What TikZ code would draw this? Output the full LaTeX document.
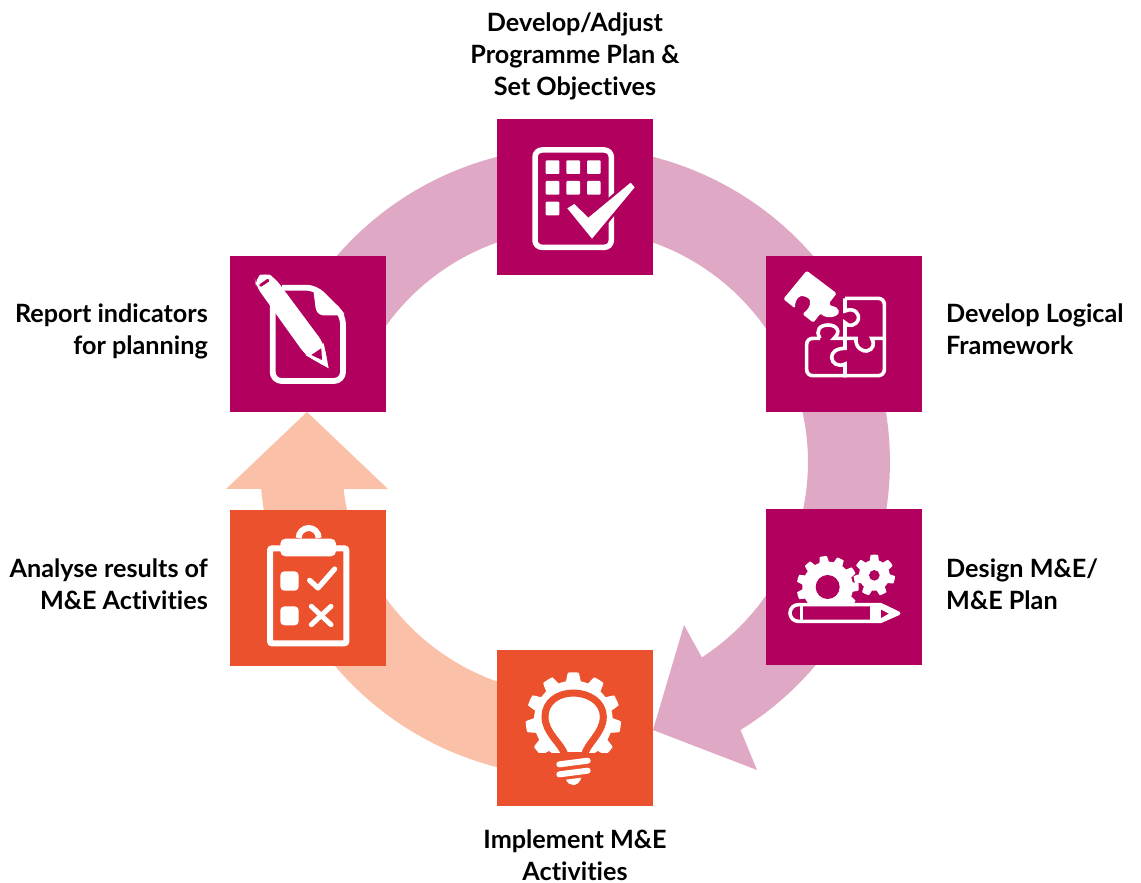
\documentclass[tikz,border=0pt]{standalone}
\usepackage{fontspec}
\setmainfont{Lato}[Ligatures=NoCommon]
\usetikzlibrary{positioning}
\definecolor{plum}{HTML}{B1005D}
\definecolor{rust}{HTML}{EC512D}
\definecolor{plumring}{HTML}{DFA8C4}
\definecolor{rustring}{HTML}{FBC0A8}
\newcommand{\gearplot}[6]{plot[domain=#6-180:#6+180,samples=361] ({#1+(#3+(#4-#3)*max(0,min(1,0.6+1.3*cos(#5*(\x-(#6))))))*cos(\x)},{#2+(#3+(#4-#3)*max(0,min(1,0.6+1.3*cos(#5*(\x-(#6))))))*sin(\x)})}
\tikzset{
	stepbox/.style={minimum size=156pt,inner sep=0pt,outer sep=0pt},
	steplabel/.style={font=\fontsize{25.2}{32}\selectfont\bfseries,inner sep=0pt},
	zoomed/.style={x=0.33333pt,y=-0.33333pt}
}
\begin{document}
\begin{tikzpicture}[x=1pt,y=-1pt]
	\useasboundingbox (0,0) rectangle (1141,883);
	\fill[plumring] plot[domain=206:418.3,samples=90] ({575+315*cos(\x)},{462+315*sin(\x)})
		-- (757,770) -- (653,730) -- (684,625)
		-- plot[domain=417:206,samples=90] ({575+233*cos(\x)},{462+233*sin(\x)}) -- cycle;
	\fill[rustring] plot[domain=80:175.1,samples=50] ({575+315*cos(\x)},{462+315*sin(\x)})
		-- (226,489) -- (307,412) -- (388,489)
		-- plot[domain=173.3:80,samples=50] ({575+233*cos(\x)},{462+233*sin(\x)}) -- cycle;

	\node[stepbox,fill=plum](plan) at (575,197){};
	\node[stepbox,fill=plum](logframe) at (844,334){};
	\node[stepbox,fill=plum](design) at (844,587){};
	\node[stepbox,fill=rust](implement) at (575,728){};
	\node[stepbox,fill=rust](analyse) at (308,588){};
	\node[stepbox,fill=plum](report) at (308,334){};

	\node[steplabel,align=center,above=19pt of plan](plantext){Develop/Adjust\\Programme Plan \&\\Set Objectives};
	\node[steplabel,align=left,right=24pt of logframe,yshift=5pt](logframetext){Develop Logical\\Framework};
	\node[steplabel,align=left,right=24pt of design,yshift=3pt](designtext){Design M\&E/\\M\&E Plan};
	\node[steplabel,align=center,below=24pt of implement](implementtext){Implement M\&E\\Activities};
	\node[steplabel,align=right,left=22pt of analyse,yshift=4pt](analysetext){Analyse results of\\M\&E Activities};
	\node[steplabel,align=right,left=22pt of report,yshift=3pt](reporttext){Report indicators\\for planning};

	\begin{scope}[shift={(490,110)},zoomed]
		\draw[white,line width=5.5pt,rounded corners=7pt] (135,120) rectangle (364,412);
		\foreach \col in {167,229,291}{
			\foreach \row in {151,213}{
				\fill[white,rounded corners=1pt] (\col,\row) rectangle ++(41,41);
			}
		}
		\fill[white,rounded corners=1pt] (167,275) rectangle ++(41,41);
		\draw[plum,line width=5pt] (232,295) -- (253,282) -- (295,323) -- (422,218) -- (434,232) -- (306,386) -- cycle;
		\fill[white] (232,295) -- (253,282) -- (295,323) -- (422,218) -- (434,232) -- (306,386) -- cycle;
	\end{scope}

	\begin{scope}[shift={(760,250)},zoomed]
		\fill[white,rounded corners=1.5pt] (140,62) -- (230,130) -- (207,160) .. controls (215,172) and (228,165) .. (238,185)
			.. controls (228,205) and (195,205) .. (182,190) -- (160,218) -- (127,192)
			.. controls (150,175) and (160,150) .. (135,140) .. controls (120,135) and (105,145) .. (105,175) -- (70,147) -- cycle;
		\draw[white,line width=3.6pt,rounded corners=6pt] (255,145) -- (373,145) -- (373,377) -- (140,377) -- (140,265) -- (180,265);
		\draw[white,line width=3.6pt] (180,265) .. controls (165,240) and (180,225) .. (205,225)
			.. controls (230,225) and (245,245) .. (222,265) -- (288,265)
			.. controls (285,295) and (310,305) .. (320,303) .. controls (340,300) and (345,280) .. (335,265) -- (373,265);
		\draw[white,line width=3.6pt] (255,145) -- (255,183) .. controls (285,170) and (300,195) .. (295,208)
			.. controls (288,228) and (265,232) .. (255,218) -- (255,295)
			.. controls (225,295) and (215,310) .. (215,322) .. controls (215,340) and (235,352) .. (255,342) -- (255,382);
	\end{scope}

	\begin{scope}[shift={(760,503)},zoomed]
		\begin{scope}
			\clip (80,130) rectangle (420,302);
			\fill[white] \gearplot{203}{252}{76}{93}{11}{0};
		\end{scope}
		\fill[plum] (203,252) circle (12pt);
		\fill[white] \gearplot{343}{217}{46}{62}{7}{-90};
		\fill[plum] (343,217) circle (5.3pt);
		\draw[white,line width=3.6pt,line join=round] (362,305) -- (115,305) arc[start angle=-90,end angle=-270,radius=25] -- (362,355) -- (416,331) -- cycle;
		\draw[white,line width=3.6pt] (125,305) -- (125,355);
		\fill[white] (330,300) rectangle (362,360);
		\fill[white] (355,304) -- (416,331) -- (355,358) -- cycle;
		\fill[plum] (363,320) -- (386,332) -- (363,345) -- cycle;
	\end{scope}

	\begin{scope}[shift={(490,645)},zoomed]
		\fill[white] \gearplot{250}{225}{118}{143}{11}{-90};
		\fill[rust] (100,323) rectangle (400,380);
		\filldraw[fill=white,draw=rust,line width=7pt] (226,332) .. controls (215,295) and (165,265) .. (165,215)
			.. controls (165,170) and (205,144) .. (250,144) .. controls (295,144) and (340,170) .. (340,215)
			.. controls (340,265) and (290,295) .. (283,332) -- cycle;
		\draw[white,line width=6pt,line cap=round] (208,358) -- (293,347);
		\draw[white,line width=6pt,line cap=round] (208,388) -- (293,377);
		\fill[white] (228,404) -- (274,398) .. controls (270,412) and (260,420) .. (250,420) .. controls (240,420) and (232,414) .. (228,404) -- cycle;
	\end{scope}

	\begin{scope}[shift={(222,503)},zoomed]
		\draw[white,line width=6pt,rounded corners=2pt] (144,136) rectangle (373,421);
		\fill[white,rounded corners=5pt] (175,107) rectangle (342,160);
		\draw[white,line width=6pt] (230,105) arc[start angle=180,end angle=360,radius=30];
		\fill[white,rounded corners=4pt] (175,205) rectangle (230,263);
		\fill[white,rounded corners=4pt] (175,310) rectangle (230,367);
		\draw[white,line width=5.2pt,line cap=round,line join=round] (263,232) -- (288,255) -- (338,198);
		\draw[white,line width=5pt,line cap=round] (268,310) -- (327,365);
		\draw[white,line width=5pt,line cap=round] (327,310) -- (268,365);
	\end{scope}

	\begin{scope}[shift={(222,250)},zoomed]
		\draw[white,line width=5.8pt,rounded corners=9pt] (152,165) -- (152,393) -- (363,393) -- (363,195) -- (280,113) -- (180,113);
		\fill[white,rounded corners=3pt] (272,105) -- (366,187) -- (366,196) -- (295,196) -- (282,183) -- cycle;
		\fill[white,rounded corners=8pt] (102,108) -- (98,85) -- (130,66) -- (160,85) -- (305,280) -- (320,355) -- (250,315) -- cycle;
		\draw[plum,line width=3pt,line cap=round] (116,106) -- (138,91);
		\fill[white] (305,280) -- (320,355) -- (250,315) -- cycle;
		\fill[plum] (268,315) -- (298,295) -- (300,330) -- cycle;
	\end{scope}
\end{tikzpicture}
\end{document}
